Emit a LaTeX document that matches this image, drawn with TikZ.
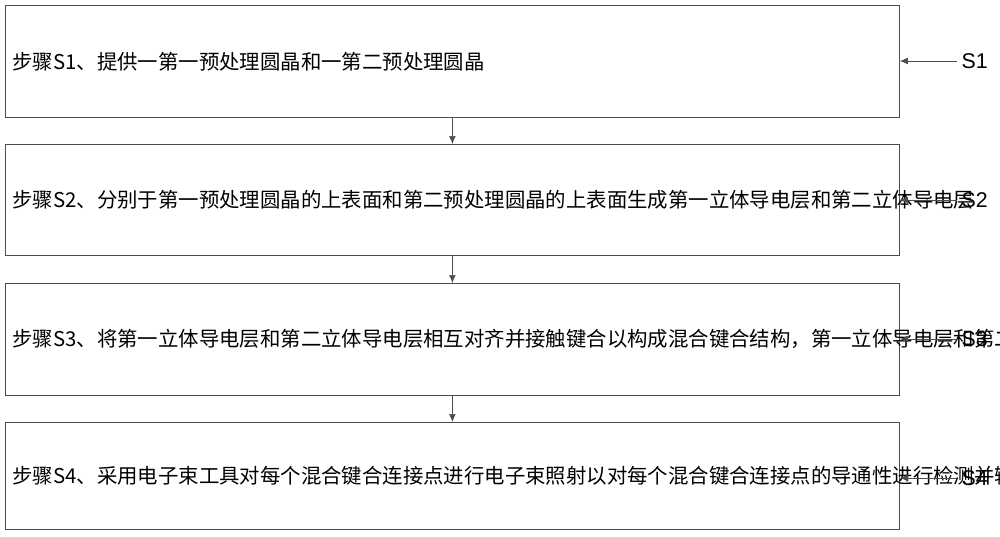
\documentclass[tikz,border=0pt]{standalone}
\usepackage{fontspec}
\usetikzlibrary{arrows.meta}
\setmainfont{Liberation Sans}
\newfontfamily\cjk{Noto Sans CJK SC}
\begin{document}
\begin{tikzpicture}[x=0.75pt,y=-0.75pt,
  box/.style={draw=black!70,line width=0.6pt,minimum width=670.5pt,anchor=north west,inner sep=0pt,inner xsep=4pt,text width=660pt,align=left,font=\cjk\fontsize{15.3}{27}\selectfont},
  arr/.style={-{Latex[length=6pt,width=5pt]},line width=0.5pt,draw=black!70},
  lab/.style={font=\fontsize{16}{18}\selectfont,anchor=west}]
\useasboundingbox (0,0) rectangle (1000,536);
\node[box,minimum height=84pt] (b1) at (5,5) {步骤S1、提供一第一预处理圆晶和一第二预处理圆晶};
\node[box,minimum height=83.25pt] (b2) at (5,144) {步骤S2、分别于第一预处理圆晶的上表面和第二预处理圆晶的上表面生成第一立体导电层和第二立体导电层};
\node[box,minimum height=84pt] (b3) at (5,283) {步骤S3、将第一立体导电层和第二立体导电层相互对齐并接触键合以构成混合键合结构，第一立体导电层和第二立体导电层的键合处构成多个混合键合连接点};
\node[box,minimum height=80.25pt] (b4) at (5,422) {步骤S4、采用电子束工具对每个混合键合连接点进行电子束照射以对每个混合键合连接点的导通性进行检测并输出检测结果};
\draw[arr] (b1) -- (b2);
\draw[arr] (b2) -- (b3);
\draw[arr] (b3) -- (b4);
\foreach \i/\y in {1/61,2/200,3/339,4/478}{
  \node[lab] (s\i) at (957,\y) {S\i};
  \draw[arr] (s\i.west) -- (b\i.east |- s\i.west);
}
\end{tikzpicture}
\end{document}
